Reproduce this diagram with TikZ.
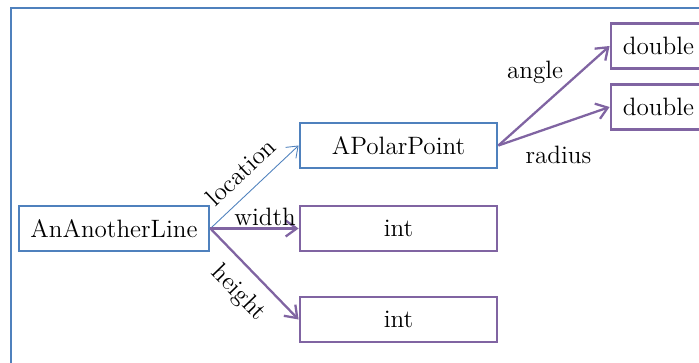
\documentclass[tikz,border=0pt]{standalone}
\usetikzlibrary{arrows.meta}
\definecolor{frameblue}{RGB}{79,129,189}
\definecolor{fieldpurple}{RGB}{128,100,162}
\begin{document}
\begin{tikzpicture}[
    font=\fontsize{14.3}{16}\selectfont,
    objbox/.style={draw=frameblue, line width=1.6pt, minimum height=0.9cm, inner sep=0pt},
    valbox/.style={draw=fieldpurple, line width=1.6pt, minimum height=0.9cm, inner sep=0pt},
    field/.style={draw=fieldpurple, line width=1.3pt, -{Straight Barb[length=2.2mm,width=3.2mm]}},
    ref/.style={draw=frameblue, line width=0.5pt, -{Straight Barb[length=2mm,width=3mm]}}
    ]
        \useasboundingbox (0,0) rectangle (13.98,7.24);
        \clip (0,0) rectangle (13.98,7.24);
        \draw[frameblue, line width=1.6pt] (0.22,-1) rectangle (15,7.08);

        \node[objbox, minimum width=3.8cm] (line) at (2.28,2.67) {AnAnotherLine};
        \node[objbox, minimum width=3.94cm] (polar) at (7.97,4.33) {APolarPoint};
        \node[valbox, minimum width=3.94cm] (width) at (7.97,2.67) {int};
        \node[valbox, minimum width=3.94cm] (height) at (7.97,0.85) {int};
        \node[valbox, minimum width=1.9cm] (angle) at (13.17,6.32) {double};
        \node[valbox, minimum width=1.9cm] (radius) at (13.17,5.10) {double};

        \draw[ref] (line.east) -- (polar.west) node[pos=0.5, sloped, above=3pt] {location};
        \draw[field] (line.east) -- (width.west) node[pos=0.62, above, inner sep=1pt] {width};
        \draw[field] (line.east) -- (height.west) node[pos=0.52, sloped, below=4pt] {height};
        \draw[field] (polar.east) -- (angle.west) node[pos=0.33, yshift=0.8cm] {angle};
        \draw[field] (polar.east) -- (radius.west) node[pos=0.54, yshift=-0.6cm] {radius};

    \end{tikzpicture}
\end{document}
